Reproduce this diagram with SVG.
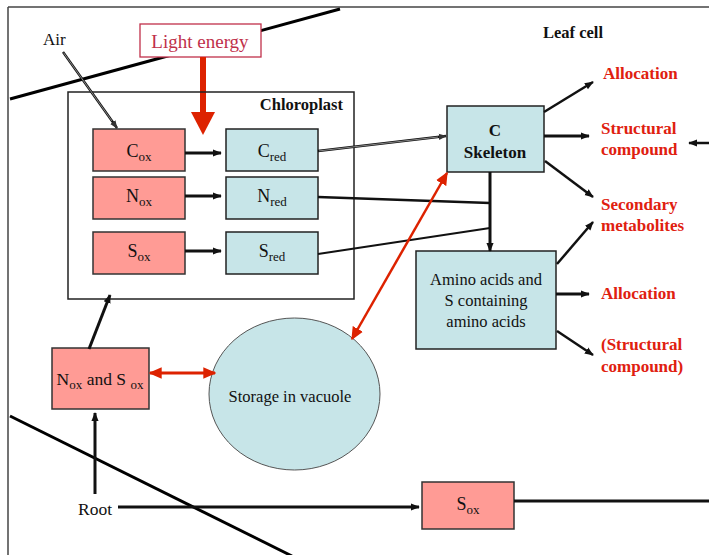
<svg xmlns="http://www.w3.org/2000/svg" width="709" height="555" viewBox="0 0 709 555">
<defs>
<style>
.t{font-family:"Liberation Serif","Times New Roman",serif;fill:#111;}
.b{font-weight:bold;}
.red{fill:#e0200f;font-family:"Liberation Serif","Times New Roman",serif;font-weight:bold;font-size:17px;}
.pink{fill:#ff9b95;stroke:#333;stroke-width:1.5;}
.blue{fill:#c7e5e8;stroke:#222;stroke-width:1.5;}
.ln{stroke:#111;fill:none;}
.sub{font-size:13px;}
.hollow{stroke:#bbb;stroke-width:0.7;fill:none;}
</style>
<marker id="ah" viewBox="0 0 10 10" refX="9" refY="5" markerWidth="9" markerHeight="9" markerUnits="userSpaceOnUse" orient="auto"><path d="M0,1 L10,5 L0,9 z" fill="#111"/></marker>
<marker id="ahs" viewBox="0 0 10 10" refX="9" refY="5" markerWidth="8" markerHeight="8" markerUnits="userSpaceOnUse" orient="auto"><path d="M0,1 L10,5 L0,9 z" fill="#333"/></marker>
<marker id="ahr" viewBox="0 0 10 10" refX="9" refY="5" markerWidth="13" markerHeight="13" markerUnits="userSpaceOnUse" orient="auto-start-reverse"><path d="M0,0.5 L10,5 L0,9.5 z" fill="#dd2200"/></marker>
</defs>

<!-- frame and membranes -->
<g id="frame">
<line x1="8" y1="7" x2="709" y2="7" stroke="#444" stroke-width="1.5"/>
<line x1="8" y1="7" x2="8" y2="555" stroke="#444" stroke-width="1.5"/>
<line x1="10" y1="99" x2="340" y2="9" stroke="#000" stroke-width="3"/>
<line x1="10" y1="416" x2="292" y2="556" stroke="#000" stroke-width="3"/>
</g>

<g id="labels">
<text class="t" x="43" y="45" font-size="17">Air</text>
<text class="t b" x="543" y="38" font-size="16.5">Leaf cell</text>
<text class="t" x="78" y="515" font-size="17.5">Root</text>
</g>

<g id="light-energy">
<rect x="140" y="24" width="121" height="33" fill="#fff" stroke="#c0304a" stroke-width="1.3"/>
<text x="200" y="48" text-anchor="middle" font-family="Liberation Serif, serif" font-size="19" fill="#c0304a">Light energy</text>
<rect x="200" y="57" width="6" height="56" fill="#dd2200"/>
<polygon points="191,112 215,112 203,135" fill="#dd2200"/>
</g>

<g id="chloroplast">
<rect x="68" y="92" width="286" height="207" fill="none" stroke="#222" stroke-width="1.5"/>
<text class="t b" x="343" y="110" text-anchor="end" font-size="16.5">Chloroplast</text>
</g>

<g id="cox"><rect class="pink" x="93" y="129" width="92" height="42"/>
<text class="t" x="139" y="157" text-anchor="middle" font-size="18">C<tspan class="sub" dy="4">ox</tspan></text></g>
<g id="nox"><rect class="pink" x="93" y="177" width="92" height="42"/>
<text class="t" x="139" y="202" text-anchor="middle" font-size="18">N<tspan class="sub" dy="4">ox</tspan></text></g>
<g id="sox"><rect class="pink" x="93" y="232" width="92" height="42"/>
<text class="t" x="139" y="257" text-anchor="middle" font-size="18">S<tspan class="sub" dy="4">ox</tspan></text></g>

<g id="cred"><rect class="blue" x="226" y="129" width="92" height="42"/>
<text class="t" x="272" y="157" text-anchor="middle" font-size="18">C<tspan class="sub" dy="4">red</tspan></text></g>
<g id="nred"><rect class="blue" x="226" y="177" width="92" height="42"/>
<text class="t" x="272" y="202" text-anchor="middle" font-size="18">N<tspan class="sub" dy="4">red</tspan></text></g>
<g id="sred"><rect class="blue" x="226" y="232" width="92" height="42"/>
<text class="t" x="272" y="257" text-anchor="middle" font-size="18">S<tspan class="sub" dy="4">red</tspan></text></g>

<g id="cskeleton"><rect class="blue" x="447" y="106" width="97" height="66"/>
<text class="t b" x="495" y="136" text-anchor="middle" font-size="17">C</text>
<text class="t b" x="495" y="158" text-anchor="middle" font-size="17">Skeleton</text></g>

<g id="amino"><rect class="blue" x="416" y="251" width="140" height="98"/>
<text class="t" x="486" y="285" text-anchor="middle" font-size="16.5">Amino acids and</text>
<text class="t" x="486" y="306" text-anchor="middle" font-size="16.5">S containing</text>
<text class="t" x="486" y="327" text-anchor="middle" font-size="16.5">amino acids</text></g>

<g id="noxsox"><rect class="pink" x="52" y="348" width="97" height="61"/>
<text class="t" x="100" y="385" text-anchor="middle" font-size="17.5">N<tspan class="sub" dy="4">ox</tspan><tspan dy="-4"> and S </tspan><tspan class="sub" dy="4">ox</tspan></text></g>

<g id="vacuole"><ellipse cx="294.5" cy="394" rx="85.5" ry="76" fill="#c7e5e8" stroke="#555" stroke-width="1"/>
<text class="t" x="290" y="402" text-anchor="middle" font-size="16.5">Storage in vacuole</text></g>

<g id="sox-root"><rect class="pink" x="422" y="482" width="92" height="47"/>
<text class="t" x="468" y="510" text-anchor="middle" font-size="18">S<tspan class="sub" dy="4">ox</tspan></text></g>

<g id="outputs">
<text class="red" x="603" y="79">Allocation</text>
<text class="red" x="601" y="134">Structural</text>
<text class="red" x="601" y="155">compound</text>
<text class="red" x="601" y="210">Secondary</text>
<text class="red" x="601" y="231">metabolites</text>
<text class="red" x="601" y="299">Allocation</text>
<text class="red" x="601" y="350">(Structural</text>
<text class="red" x="601" y="372">compound)</text>
</g>

<g id="connectors">
<line class="ln" x1="63" y1="52" x2="117" y2="128" stroke="#333" stroke-width="2.4" marker-end="url(#ahs)"/>
<line class="hollow" x1="63.5" y1="52.7" x2="112" y2="121"/>
<line class="ln" x1="185" y1="153" x2="221" y2="153" stroke-width="3" marker-end="url(#ah)"/>
<line class="ln" x1="185" y1="196" x2="221" y2="196" stroke-width="3" marker-end="url(#ah)"/>
<line class="ln" x1="185" y1="251" x2="221" y2="251" stroke-width="3" marker-end="url(#ah)"/>
<line class="ln" x1="318" y1="151" x2="446" y2="136" stroke="#333" stroke-width="2.4" marker-end="url(#ahs)"/>
<line class="hollow" x1="319" y1="150.9" x2="438" y2="137"/>
<line class="ln" x1="318" y1="197" x2="490" y2="203" stroke-width="2.5"/>
<line class="ln" x1="318" y1="254" x2="490" y2="228" stroke-width="2"/>
<line class="ln" x1="490" y1="172" x2="490" y2="251" stroke-width="3" marker-end="url(#ah)"/>
<line class="ln" x1="544" y1="112" x2="593" y2="82" stroke-width="2.5" marker-end="url(#ah)"/>
<line class="ln" x1="544" y1="136" x2="589" y2="136" stroke-width="3" marker-end="url(#ah)"/>
<line class="ln" x1="545" y1="161" x2="593" y2="197" stroke-width="2.5" marker-end="url(#ah)"/>
<line class="ln" x1="557" y1="264" x2="593" y2="222" stroke-width="2.5" marker-end="url(#ah)"/>
<line class="ln" x1="556" y1="294" x2="589" y2="294" stroke-width="3" marker-end="url(#ah)"/>
<line class="ln" x1="557" y1="331" x2="593" y2="355" stroke-width="2.5" marker-end="url(#ah)"/>
<line class="ln" x1="709" y1="143" x2="689" y2="143" stroke-width="2.5" marker-end="url(#ah)"/>
<line class="ln" x1="89" y1="349" x2="110" y2="295" stroke-width="3" marker-end="url(#ah)"/>
<line class="ln" x1="95" y1="494" x2="95" y2="413" stroke-width="3" marker-end="url(#ah)"/>
<line class="ln" x1="118" y1="507" x2="419" y2="507" stroke-width="3" marker-end="url(#ah)"/>
<line class="ln" x1="514" y1="501" x2="709" y2="501" stroke-width="3"/>
<line x1="150" y1="373" x2="215" y2="373" stroke="#dd2200" stroke-width="3" marker-start="url(#ahr)" marker-end="url(#ahr)"/>
<line x1="352" y1="339" x2="447" y2="173" stroke="#dd2200" stroke-width="2.5" marker-start="url(#ahr)" marker-end="url(#ahr)"/>
</g>
</svg>
